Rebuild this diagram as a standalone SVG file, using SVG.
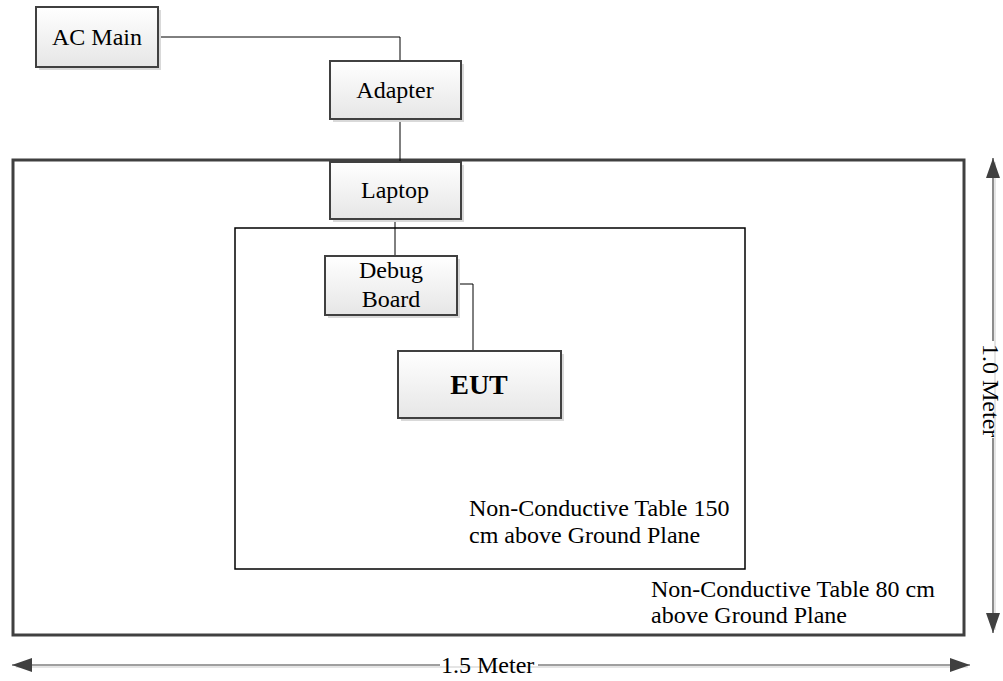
<svg xmlns="http://www.w3.org/2000/svg" width="1003" height="681" viewBox="0 0 1003 681">
<style>
text{font-family:"Liberation Serif","Times New Roman",serif;font-size:24px;fill:#000}
.c{text-anchor:middle}
.box{fill:url(#g);stroke:#404040;stroke-width:2}
.sh{fill:#d9d9d9;stroke:none}
.wire{fill:none;stroke:#000;stroke-width:1}
.dim{fill:none;stroke:#404040;stroke-width:1.2}
.dimsh{fill:none;stroke:#dcdcdc;stroke-width:1.5}
</style>
<defs>
<linearGradient id="g" x1="0" y1="0" x2="0" y2="1">
<stop offset="0" stop-color="#ffffff"/>
<stop offset="1" stop-color="#e6e6e6"/>
</linearGradient>
<marker id="ah" viewBox="0 0 20 14" refX="20" refY="7" markerWidth="20" markerHeight="14" markerUnits="userSpaceOnUse" orient="auto-start-reverse">
<path d="M0,0 L20,7 L0,14 Z" fill="#404040"/>
</marker>
</defs>
<rect width="1003" height="681" fill="#fff"/>
<g font-family="Liberation Serif, Times New Roman, serif" font-size="24">
<g id="outer-table">
<rect x="13" y="160" width="951" height="475" fill="none" stroke="#404040" stroke-width="3"/>
<text x="651" y="597" font-family="Liberation Serif, serif">Non-Conductive Table 80 cm</text>
<text x="651" y="623" font-family="Liberation Serif, serif">above Ground Plane</text>
</g>
<g id="inner-table">
<rect x="235" y="228" width="510" height="341" fill="none" stroke="#000" stroke-width="1.5"/>
<text x="469" y="516" font-family="Liberation Serif, serif">Non-Conductive Table 150</text>
<text x="469" y="543" font-family="Liberation Serif, serif">cm above Ground Plane</text>
</g>
<g id="connectors">
<polyline class="wire" points="158,37 400,37 400,61"/>
<line class="wire" x1="400" y1="119" x2="400" y2="162"/>
<line class="wire" x1="395" y1="219" x2="395" y2="256"/>
<polyline class="wire" points="457,284 473,284 473,351"/>
</g>
<g id="ac-main">
<rect class="sh" x="39" y="10" width="122" height="60"/>
<rect class="box" x="36" y="7" width="122" height="60"/>
<text class="c" x="97" y="45" font-family="Liberation Serif, serif">AC Main</text>
</g>
<g id="adapter">
<rect class="sh" x="333" y="64" width="131" height="58"/>
<rect class="box" x="330" y="61" width="131" height="58"/>
<text class="c" x="395" y="98" font-family="Liberation Serif, serif">Adapter</text>
</g>
<g id="laptop">
<rect class="sh" x="333" y="165" width="131" height="57"/>
<rect class="box" x="330" y="162" width="131" height="57"/>
<text class="c" x="395" y="198" font-family="Liberation Serif, serif">Laptop</text>
</g>
<g id="debug-board">
<rect class="sh" x="328" y="259" width="132" height="59"/>
<rect class="box" x="325" y="256" width="132" height="59"/>
<text class="c" x="391" y="278" font-family="Liberation Serif, serif">Debug</text>
<text class="c" x="391" y="307" font-family="Liberation Serif, serif">Board</text>
</g>
<g id="eut">
<rect class="sh" x="401" y="354" width="163" height="67"/>
<rect class="box" x="398" y="351" width="163" height="67"/>
<text class="c" x="479" y="394" font-family="Liberation Serif, serif" style="font-weight:bold;font-size:28px">EUT</text>
</g>
<g id="dim-width">
<line class="dimsh" x1="16" y1="667" x2="968" y2="667"/>
<line class="dim" x1="12" y1="665" x2="440" y2="665" marker-start="url(#ah)"/>
<line class="dim" x1="538" y1="665" x2="970" y2="665" marker-end="url(#ah)"/>
<text x="441" y="673" font-family="Liberation Serif, serif">1.5 Meter</text>
</g>
<g id="dim-height">
<line class="dimsh" x1="995" y1="162" x2="995" y2="630"/>
<line class="dim" x1="993" y1="158" x2="993" y2="341" marker-start="url(#ah)"/>
<line class="dim" x1="993" y1="438" x2="993" y2="633" marker-end="url(#ah)"/>
<text transform="translate(983,344) rotate(90)" font-family="Liberation Serif, serif">1.0 Meter</text>
</g>
</g>
</svg>
